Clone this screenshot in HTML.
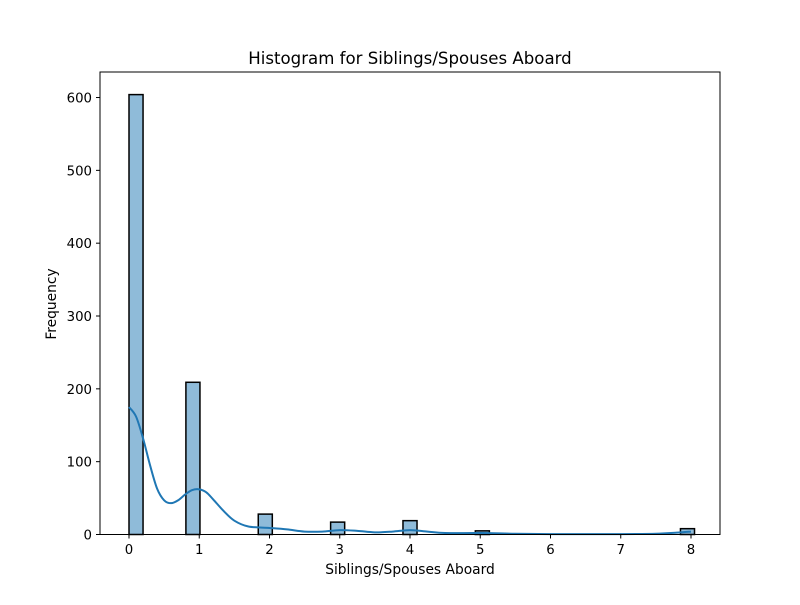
<!DOCTYPE html>
<html><head><meta charset="utf-8"><style>
body{margin:0;background:#fff;}
svg text{font-family:"DejaVu Sans","Liberation Sans",sans-serif;fill:#000;}
</style></head><body>
<svg id="chart" width="800" height="600" xmlns="http://www.w3.org/2000/svg">
<rect width="800" height="600" fill="#fff"/>
<text x="410" y="64" font-size="16.6" text-anchor="middle">Histogram for Siblings/Spouses Aboard</text>
<g id="bars"></g>
<path id="kde" fill="none" stroke="#1f77b4" stroke-width="2"/>
<rect x="100" y="72" width="620" height="462.5" fill="none" stroke="#000" stroke-width="1"/>
<g id="xt"></g><g id="yt"></g>
<text x="410" y="574" font-size="13.8" text-anchor="middle">Siblings/Spouses Aboard</text>
<text transform="translate(56,304) rotate(-90)" font-size="13.8" text-anchor="middle">Frequency</text>
</svg>
<script>
const binStarts=[0,0.81,1.84,2.87,3.9,4.93,7.85];
const counts=[604,209,28,17,19,5,8];
const binWidth=0.2;
const kdeX=[0,0.1,0.2,0.3,0.4,0.5,0.6,0.7,0.8,0.9,1.0,1.1,1.2,1.35,1.5,1.7,2.0,2.25,2.5,2.75,3.0,3.25,3.5,3.75,4.0,4.25,4.5,5.0,5.5,6.0,6.5,7.0,7.5,7.8,8.0];
const kdeY=[175,162,132,95,63,47,43,47,55,61,62,58,48,32,19,11,9,7,4,4,6,5,3,4,6,4,2,2,1,0.5,0.5,0.5,1,2.5,4];
const xTicks=[0,1,2,3,4,5,6,7,8];
const yTicks=[0,100,200,300,400,500,600];
const NS="http://www.w3.org/2000/svg";
const X=v=>129+v*70.25;
const Y=v=>534.5-v*0.7283;
const bars=document.getElementById('bars');
binStarts.forEach((b,i)=>{
 const r=document.createElementNS(NS,'rect');
 r.setAttribute('x',X(b));r.setAttribute('width',binWidth*70.25);
 r.setAttribute('y',Y(counts[i]));r.setAttribute('height',Y(0)-Y(counts[i]));
 r.setAttribute('fill','rgba(31,119,180,0.5)');r.setAttribute('stroke','#000');r.setAttribute('stroke-width','1.5');
 
 
 bars.appendChild(r);
});
const pts=kdeX.map((x,i)=>[X(x),Y(kdeY[i])]);
let d='M'+pts[0][0]+','+pts[0][1];
for(let i=0;i<pts.length-1;i++){
 const p0=pts[i-1]||pts[i],p1=pts[i],p2=pts[i+1],p3=pts[i+2]||p2;
 d+=' C'+(p1[0]+(p2[0]-p0[0])/6)+','+(p1[1]+(p2[1]-p0[1])/6)+' '+(p2[0]-(p3[0]-p1[0])/6)+','+(p2[1]-(p3[1]-p1[1])/6)+' '+p2[0]+','+p2[1];
}
document.getElementById('kde').setAttribute('d',d);
const xt=document.getElementById('xt');
xTicks.forEach(t=>{
 const l=document.createElementNS(NS,'line');
 l.setAttribute('x1',X(t));l.setAttribute('x2',X(t));l.setAttribute('y1',534.5);l.setAttribute('y2',538.5);l.setAttribute('stroke','#000');
 
 
 xt.appendChild(l);
 const s=document.createElementNS(NS,'text');
 s.setAttribute('x',X(t));s.setAttribute('y',554);s.setAttribute('font-size','13.3');s.setAttribute('text-anchor','middle');s.textContent=t;
 
 
 xt.appendChild(s);
});
const yt=document.getElementById('yt');
yTicks.forEach(t=>{
 const l=document.createElementNS(NS,'line');
 l.setAttribute('x1',96);l.setAttribute('x2',100);l.setAttribute('y1',Y(t));l.setAttribute('y2',Y(t));l.setAttribute('stroke','#000');
 
 
 yt.appendChild(l);
 const s=document.createElementNS(NS,'text');
 s.setAttribute('x',92);s.setAttribute('y',Y(t)+5);s.setAttribute('font-size','13.3');s.setAttribute('text-anchor','end');s.textContent=t;
 
 
 yt.appendChild(s);
});
</script>
</body></html>
